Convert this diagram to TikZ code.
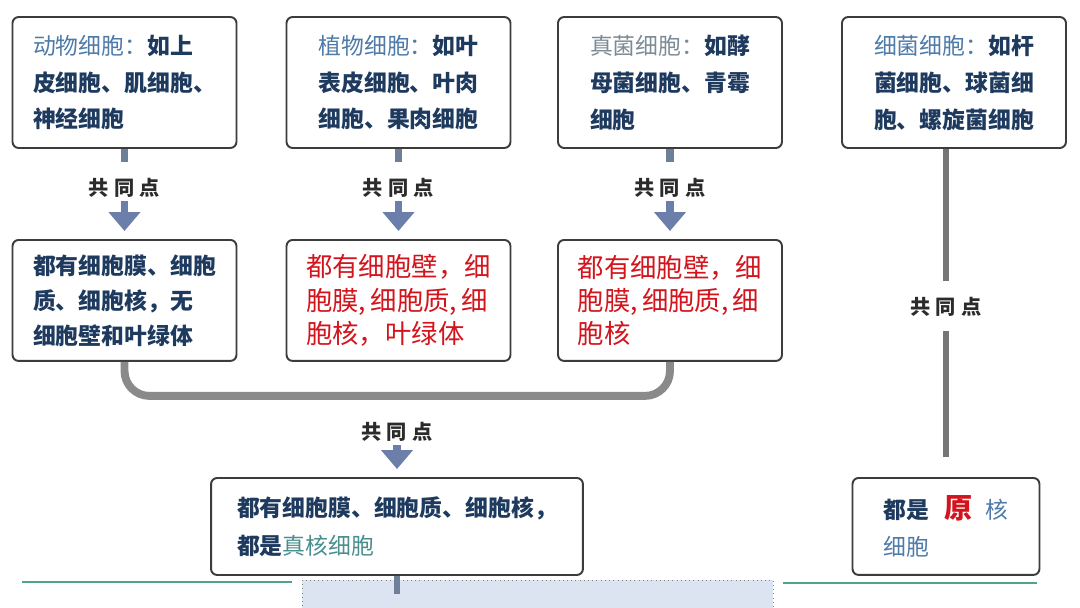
\documentclass[tikz,border=0pt]{standalone}
\usepackage{fontspec}
\usepackage{tikz}
\usetikzlibrary{arrows.meta}
\newfontfamily\cjk{Noto Sans CJK SC}

\definecolor{navy}{HTML}{1E3A5F}
\definecolor{acero}{HTML}{4F7BA8}
\definecolor{grisazul}{HTML}{7C8C96}
\definecolor{rojo}{HTML}{D3141C}
\definecolor{borde}{HTML}{3C3C3C}
\definecolor{gris}{HTML}{2B2B2B}
\definecolor{flechazul}{HTML}{6B7FAA}
\definecolor{tallogris}{HTML}{6F7F9A}
\definecolor{barragris}{HTML}{8A8A8A}
\definecolor{verdeazul}{HTML}{4A8F8F}
\definecolor{verde}{HTML}{4FA58C}
\definecolor{celeste}{HTML}{DCE4F2}

\newcommand{\cab}[1]{{\mdseries\color{acero}#1}}
\newcommand{\comunes}{共\kern3pt同\kern3pt点}

\begin{document}
\begin{tikzpicture}[x=0.02cm, y=-0.02cm, node distance=2.11cm,
    caja/.style={draw=borde, line width=1.1pt, rounded corners=3.5pt, fill=white,
      minimum width=4.48cm, minimum height=2.62cm, align=left, text=navy,
      font=\cjk\bfseries\fontsize{13pt}{21pt}\selectfont},
    comun/.style={caja, minimum height=2.42cm, font=\cjk\bfseries\fontsize{13pt}{20pt}\selectfont},
    rojas/.style={comun, text=rojo, font=\cjk\fontsize{15pt}{19pt}\selectfont},
    rotulo/.style={text=gris, inner sep=1pt, font=\cjk\bfseries\fontsize{11.5pt}{12pt}\selectfont},
    flecha/.style={-{Triangle[width=0.62cm,length=0.38cm]}, line width=4.5pt,
      draw=flechazul, shorten <=0.03cm, shorten >=0.16cm},
    tallo/.style={line width=4pt, draw=tallogris, shorten >=0.28cm},
    barra/.style={line width=4.5pt, draw=barragris, rounded corners=0.5cm},
    linea/.style={line width=3.5pt, draw=barragris!85!black}]
    \useasboundingbox (0,0) rectangle (1080,608);

    % Tipos de celulas
    \node[caja] (d1) at (124.5,82.5) {\cab{动物细胞：}如上\\皮细胞、肌细胞、\\神经细胞};
    \node[caja] (d2) at (398.5,82.5) {\cab{植物细胞：}如叶\\表皮细胞、叶肉\\细胞、果肉细胞};
    \node[caja] (d3) at (670,82.5) {{\mdseries\color{grisazul}真菌细胞：}如酵\\母菌细胞、青霉\\细胞};
    \node[caja] (d4) at (954,82.5) {\cab{细菌细胞：}如杆\\菌细胞、球菌细\\胞、螺旋菌细胞};

    % Puntos comunes
    \node[rotulo, below of=d1] (p1) {\comunes};
    \node[rotulo, below of=d2] (p2) {\comunes};
    \node[rotulo, below of=d3] (p3) {\comunes};
    \node[comun, below of=p1, node distance=2.25cm] (c1) {都有细胞膜、细胞\\质、细胞核，无\\细胞壁和叶绿体};
    \node[rojas, below of=p2, node distance=2.25cm] (c2) {都有细胞壁，细\\胞膜,\,细胞质,\,细\\胞核，叶绿体};
    \node[rojas, below of=p3, node distance=2.25cm] (c3) {都有细胞壁，细\\胞膜,\,细胞质,\,细\\胞核};

    \node[rotulo] (pj) at (397,432) {\comunes};
    \node[caja, below of=pj, node distance=1.89cm, minimum width=7.44cm, minimum height=1.94cm,
      font=\cjk\bfseries\fontsize{13pt}{21.5pt}\selectfont] (c8)
      {都有细胞膜、细胞质、细胞核，\\都是{\mdseries\color{verdeazul}真核细胞}};

    \node[rotulo] (pb) at (946,307) {\comunes};
    \node[caja, below of=pb, node distance=4.39cm, minimum width=3.74cm, minimum height=1.94cm] (c9)
      {都是\hspace{0.3cm}{\color{rojo}\fontsize{16pt}{21pt}\selectfont 原}\hspace{0.25cm}{\mdseries\color{acero}核}\\{\mdseries\color{acero}细胞}};

    % Conexiones
    \draw[tallo] (d1) -- (p1);
    \draw[tallo] (d2) -- (p2);
    \draw[tallo] (d3) -- (p3);
    \draw[flecha] (p1) -- (c1);
    \draw[flecha] (p2) -- (c2);
    \draw[flecha] (p3) -- (c3);
    \draw[barra] (c1.south) -- ++(0,34) -| (c3.south);
    \draw[flecha] (pj) -- (c8);
    \draw[linea, shorten >=0.28cm] (pb |- d4.south) -- (pb);
    \draw[linea, shorten <=0.24cm, shorten >=0.4cm] (pb) -- (c9);

    % Pie
    \draw[verde, line width=1pt] (22,582) -- (292,582);
    \draw[verde, line width=1pt] (783,583) -- (1037,583);
    \node[draw=gray, dotted, fill=celeste, inner sep=0pt, minimum width=9.42cm, minimum height=0.56cm] (franja) at (537.5,594) {};
    \draw[line width=3pt, draw=tallogris] (c8.south) -- (c8.south |- franja.center);
\end{tikzpicture}
\end{document}
